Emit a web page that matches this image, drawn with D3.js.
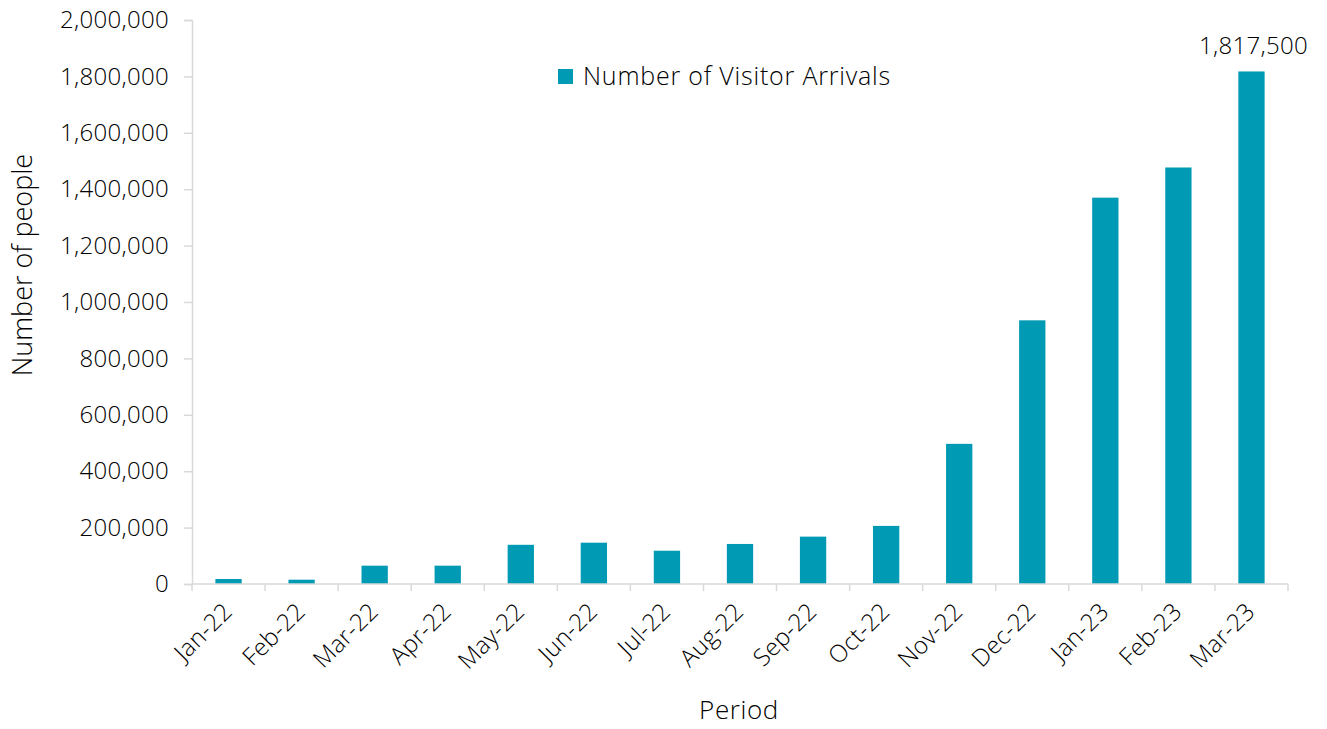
<!DOCTYPE html>
<html>
<head>
    <meta charset="utf-8">
    <title>Visitor Arrivals</title>
    <script src="https://d3js.org/d3.v7.min.js"></script>
    <style>
        body { margin: 0; background: #fff; }
        text { font-family: "Open Sans", Lato, sans-serif; font-weight: 300; fill: #000; }
    </style>
</head>
<body>
<div id="chart"></div>
<script type="text/javascript">
    // data
    let periods = ["Jan-22", "Feb-22", "Mar-22", "Apr-22", "May-22", "Jun-22", "Jul-22", "Aug-22",
                   "Sep-22", "Oct-22", "Nov-22", "Dec-22", "Jan-23", "Feb-23", "Mar-23"];
    let arrivals = [17700, 15300, 65000, 65000, 139000, 146500, 118000, 142000,
                    168000, 206000, 497000, 935000, 1370000, 1477000, 1817500];
    let yTicks = [0, 200000, 400000, 600000, 800000, 1000000, 1200000, 1400000,
                  1600000, 1800000, 2000000];
    let seriesName = "Number of Visitor Arrivals";

    let width = 1327, height = 729;
    let margin = {top: 20, right: 39, bottom: 145, left: 192};
    let w = width - margin.left - margin.right;
    let h = height - margin.top - margin.bottom;

    let barColor = "#009ab4";
    let axisColor = "#d9d9d9";
    let fontSize = "24px";

    let svg = d3.select("#chart")
            .append("svg")
                .attr("width", width)
                .attr("height", height)
            .append("g")
                .attr("transform", "translate(" + margin.left + "," + margin.top + ")");

    let xScale = d3.scaleBand()
                    .domain(periods)
                    .range([0, w])
                    .padding(0);

    let yScale = d3.scaleLinear()
                    .domain([0, 2000000])
                    .range([h, 0]);

    let barW = xScale.bandwidth() * 0.36;

    // bars
    svg.selectAll("rect.bar")
        .data(arrivals)
        .enter()
        .append("rect")
        .attr("class", "bar")
        .attr("x", function(d, i){ return xScale(periods[i]) + (xScale.bandwidth() - barW) / 2; })
        .attr("y", function(d){ return yScale(d); })
        .attr("width", barW)
        .attr("height", function(d){ return h - yScale(d); })
        .attr("fill", barColor);

    // y axis
    let yAxis = d3.axisLeft(yScale)
                    .tickValues(yTicks)
                    .tickSize(8)
                    .tickPadding(15)
                    .tickFormat(d3.format(","));

    let gy = svg.append("g").call(yAxis);
    gy.select(".domain").attr("stroke", axisColor).attr("stroke-width", 1.5);
    gy.selectAll(".tick line").attr("stroke", axisColor).attr("stroke-width", 1.5);
    gy.selectAll(".tick text")
        .attr("font-size", fontSize)
        .attr("fill", "#000")
        .style("letter-spacing", "0.3px")
        .style("font-family", "'Open Sans', sans-serif")
        .style("font-weight", 300);

    // x axis: boundary ticks
    let gx = svg.append("g").attr("transform", "translate(0," + h + ")");
    gx.append("line")
        .attr("x1", 0).attr("x2", w)
        .attr("stroke", axisColor).attr("stroke-width", 1.5);
    gx.selectAll("line.bt")
        .data(periods.concat(["end"]))
        .enter()
        .append("line")
        .attr("class", "bt")
        .attr("x1", function(d, i){ return i * xScale.step(); })
        .attr("x2", function(d, i){ return i * xScale.step(); })
        .attr("y1", 0).attr("y2", 7)
        .attr("stroke", axisColor).attr("stroke-width", 1.5);

    gx.selectAll("text.xl")
        .data(periods)
        .enter()
        .append("text")
        .attr("class", "xl")
        .attr("transform", function(d){
            return "translate(" + (xScale(d) + xScale.bandwidth() / 2 + 5) + ",29) rotate(-45)";
        })
        .style("text-anchor", "end")
        .style("letter-spacing", "0.3px")
        .attr("font-size", fontSize)
        .text(function(d){ return d; });

    // data label on last bar
    let last = arrivals.length - 1;
    svg.append("text")
        .attr("x", xScale(periods[last]) + xScale.bandwidth() / 2 + 2)
        .attr("y", yScale(arrivals[last]) - 17)
        .style("text-anchor", "middle")
        .style("letter-spacing", "0.3px")
        .attr("font-size", fontSize)
        .text(d3.format(",")(arrivals[last]));

    // legend
    let lg = svg.append("g").attr("transform", "translate(366,49)");
    lg.append("rect")
        .attr("width", 15).attr("height", 15)
        .attr("fill", barColor);
    lg.append("text")
        .attr("x", 25).attr("y", 16)
        .attr("font-size", "25px")
        .style("letter-spacing", "0.8px")
        .text(seriesName);

    // axis titles
    svg.append("text")
        .attr("transform", "translate(" + (w / 2 - 1) + "," + (h + 135) + ")")
        .style("text-anchor", "middle")
        .attr("font-size", "26px")
        .style("letter-spacing", "0.6px")
        .text("Period");

    svg.append("text")
        .attr("transform", "rotate(-90)")
        .attr("y", 32 - margin.left)
        .attr("x", 0 - (265 - margin.top))
        .style("text-anchor", "middle")
        .attr("font-size", "27px")
        .text("Number of people");
</script>
</body>
</html>
